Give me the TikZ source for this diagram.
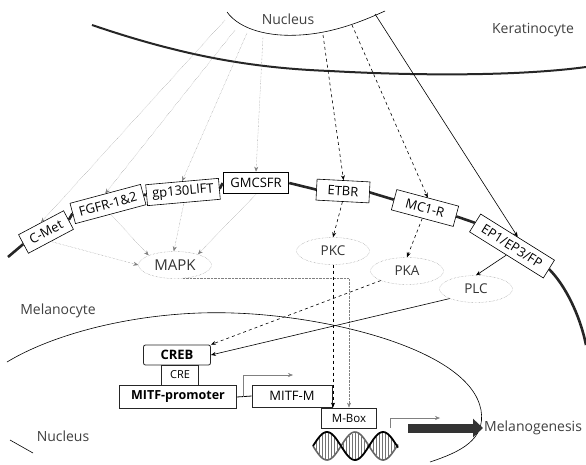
\documentclass[tikz,border=0pt]{standalone}
\usepackage{fontspec}
\setmainfont{Open Sans}
\usetikzlibrary{arrows.meta,shapes.geometric,calc}

\tikzset{
  rec/.style={draw, semithick, fill=white, minimum height=21pt, inner sep=1pt, font=\fontsize{13}{15}\selectfont},
  enz/.style={draw=gray, densely dotted, ellipse, minimum width=73pt, minimum height=27pt, inner sep=0pt, text=black!80, font=\fontsize{13.5}{15}\selectfont},
  nbox/.style={draw=black!85, thick, fill=white, minimum height=20pt, inner sep=1pt, font=\fontsize{12.5}{14}\selectfont},
  lbl/.style={text=black!75, font=\fontsize{14}{16}\selectfont},
  mem/.style={line width=2.6pt, black!85},
  grs/.style={->, gray, densely dotted},
  dsh/.style={->, dashed, semithick},
  sld/.style={->, semithick},
}

\begin{document}
\begin{tikzpicture}[x=1pt, y=-1pt, >={Stealth[length=5pt,width=4pt]}]
    \useasboundingbox (0,0) rectangle (586,464);

    % queratinocito
    \draw[line width=2pt, black!85] (92,25) .. controls (180,55) and (250,68) .. (330,71) .. controls (420,76) and (520,76) .. (586,67);
    \draw[semithick] (227,12) .. controls (240,30) and (270,37) .. (300,35) .. controls (335,33) and (365,20) .. (385,11);
    \node[lbl] (nucK) at (288,19) {Nucleus};
    \node[lbl] (kera) at (533,30) {Keratinocyte};

    % receptores
    \node[rec, rotate=28, minimum width=51pt] (cmet) at (46,232) {C-Met};
    \node[rec, rotate=15, minimum width=73pt] (fgfr) at (108,204) {FGFR-1\&2};
    \node[rec, rotate=5, minimum width=73pt] (gp) at (183,192) {gp130LIFT};
    \node[rec, line width=1.6pt, minimum width=65pt] (gmcsfr) at (256,183) {GMCSFR};
    \node[rec, rotate=-3, minimum width=53pt] (etbr) at (343,191) {ETBR};
    \node[rec, rotate=-15, minimum width=64pt] (mc1r) at (425,208) {MC1-R};
    \node[rec, rotate=-32, minimum width=87pt] (ep) at (512,246) {EP1/EP3/FP};

    % membrana do melanocito
    \coordinate (mL) at (8,257);
    \coordinate (mR) at (586,345);
    \draw[mem] (mL) -- (cmet.west);
    \draw[mem] (cmet.east) -- (fgfr.west);
    \draw[mem] (fgfr.east) -- (gp.west);
    \draw[mem] (gp.east) -- (gmcsfr.west);
    \draw[mem] (gmcsfr.east) -- (etbr.west);
    \draw[mem] (etbr.east) -- (mc1r.west);
    \draw[mem] (mc1r.east) -- (ep.west);
    \draw[mem] (ep.east) .. controls (565,285) and (580,315) .. (mR);
    \node[lbl] (mela) at (58,311) {Melanocyte};

    % enzimas
    \node[enz, font=\fontsize{15}{17}\selectfont] (mapk) at (175,265) {MAPK};
    \node[enz] (pkc) at (333,251) {PKC};
    \node[enz] (pka) at (407,271) {PKA};
    \node[enz] (plc) at (476,289) {PLC};

    % sinais vindos do nucleo
    \coordinate (n1) at (225,20);
    \coordinate (n2) at (235,30);
    \coordinate (n3) at (247,33);
    \coordinate (n4) at (263,37);
    \coordinate (n5) at (323,35);
    \coordinate (n6) at (352,25);
    \coordinate (n7) at (375,14);
    \draw[grs] (n1) -- (cmet.north);
    \draw[grs] (n2) -- (fgfr.north);
    \draw[grs] (n3) -- (gp.north);
    \draw[grs] (n4) -- (gmcsfr.north);
    \draw[dsh] (n5) -- (etbr.north);
    \draw[dsh] (n6) -- (mc1r.north);
    \draw[sld] (n7) -- (ep.north);

    % receptores -> enzimas
    \draw[grs] (cmet.south) -- (mapk.west);
    \draw[grs] (fgfr.south) -- (mapk.160);
    \draw[grs] (gp.south) -- (mapk.95);
    \draw[grs] (gmcsfr.south) -- (mapk.25);
    \draw[dsh] (etbr.south) -- (pkc.north);
    \draw[dsh] (mc1r.south) -- (pka.north);
    \draw[sld] (ep.south) -- (plc.north);

    % nucleo do melanocito
    \draw[semithick] (7,362) .. controls (60,330) and (150,310) .. (233,313) .. controls (330,316) and (470,350) .. (481,410) .. controls (486,440) and (460,452) .. (430,462);
    \draw[semithick] (10,440) -- (33,453);
    \node[lbl] (nucM) at (63,436) {Nucleus};

    \node[nbox, rounded corners=2pt, minimum width=67pt, font=\fontsize{13}{15}\selectfont\bfseries] (creb) at (177,355) {CREB};
    \node[nbox, minimum width=37pt, font=\fontsize{11}{13}\selectfont] (cre) at (180,375) {CRE};
    \node[nbox, minimum width=117pt, minimum height=23pt, font=\fontsize{12.5}{14}\selectfont\bfseries] (prom) at (178,397) {MITF-promoter};
    \node[nbox, minimum width=80pt, minimum height=22pt, font=\fontsize{13}{15}\selectfont] (mitf) at (292,396) {MITF-M};
    \node[nbox, minimum width=55pt, font=\fontsize{11.5}{13}\selectfont] (mbox) at (349,418) {M-Box};
    \draw[thick] (prom.east) -- (mitf.west);

    % inicio da transcricao
    \coordinate (t1) at (243,397);
    \coordinate (t1e) at (293,375);
    \draw[->, gray] (t1) |- (t1e);
    \coordinate (t2) at (390,428);
    \coordinate (t2e) at (440,418);
    \draw[->, gray] (t2) |- (t2e);

    % enzimas -> CREB / M-Box
    \draw[grs] (mapk.-60) -| (mbox.north);
    \draw[dsh] (pkc.south) -- (pkc.south |- mbox.north);
    \draw[dsh] (pka.200) -- (creb.north east);
    \draw[sld] (plc.200) -- (creb.east);

    % DNA
    \draw[black!60, line width=1.6pt] plot[domain=313:398, samples=60, smooth] (\x,{446+14*sin(6.4286*(\x-313))});
    \foreach \xx in {316,319,...,397}
        \draw[black!55, semithick] (\xx,{446-13*sin(6.4286*(\xx-313))}) -- (\xx,{446+13*sin(6.4286*(\xx-313))});
    \draw[black, line width=1.8pt] plot[domain=313:398, samples=60, smooth] (\x,{446-14*sin(6.4286*(\x-313))});

    % melanogenese
    \coordinate (ga) at (408,428);
    \node[lbl, anchor=west, inner sep=1pt] (melg) at (483,428) {Melanogenesis};
    \draw[line width=9pt, black!80, -{Triangle[length=10pt,width=18pt]}] (ga) -- (melg.west);

\end{tikzpicture}
\end{document}
